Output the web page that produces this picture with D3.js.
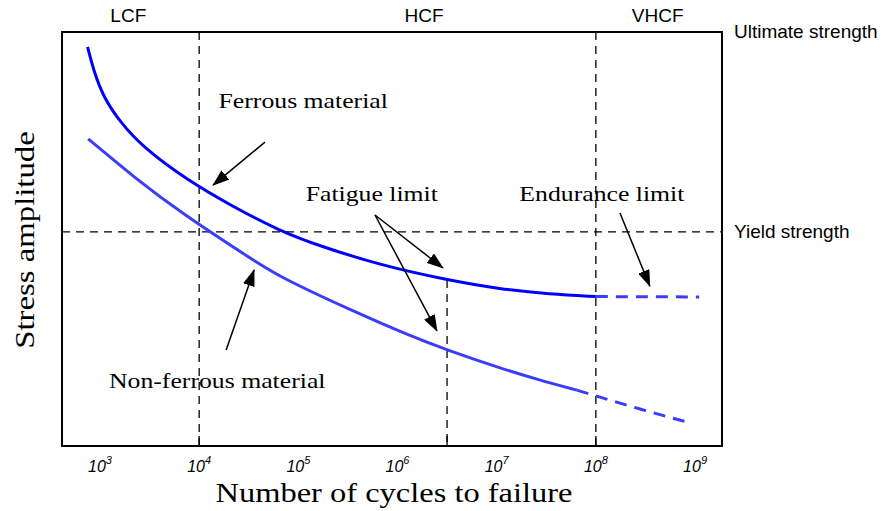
<!DOCTYPE html>
<html>
<head>
<meta charset="utf-8">
<script src="https://cdn.jsdelivr.net/npm/d3@7/dist/d3.min.js"></script>
<style>
  body { margin: 0; background: #fff; }
  svg { display: block; }
</style>
</head>
<body>
<svg id="chart" width="882" height="511"></svg>
<script>
// cycles to failure (x) and normalised stress amplitude, ultimate = 100 (y)
const decades = [1e3, 1e4, 1e5, 1e6, 1e7, 1e8, 1e9];
const decadeExp = ['3', '4', '5', '6', '7', '8', '9'];

const ferrous = [
  [750, 96.4], [860, 90.8], [1080, 84.3], [1600, 78.2], [2700, 72.2],
  [7500, 64.3], [20500, 58.2], [65500, 51.9], [165000, 48.3],
  [667000, 43.7], [3160000, 40.1], [1.08e7, 37.9], [3.44e7, 36.7], [1e8, 36.1]
];
const ferrousExt = [[1e8, 36.1], [1.1e9, 36.0]];

const nonFerrous = [
  [760, 74.2], [2370, 64.3], [6440, 56.5], [35000, 44.9],
  [65500, 40.8], [332000, 32.9], [1.43e6, 26.3], [3.16e6, 23.2],
  [1.08e7, 18.8], [2.73e7, 15.9], [6.44e7, 13.5]
];
const nonFerrousExt = [[6.44e7, 13.5], [1e8, 12.1], [2.77e8, 8.9], [8.85e8, 5.6]];

const regimeLines = [1e4, 1e8];
const fatigueN = 3.16e6;
const fatigueStress = 40.1;
const ultimateStress = 100;
const yieldStress = 51.7;
const bottomTicks = [1e4, fatigueN, 1e8];

const regimes = [
  { label: 'LCF', n: 1930 },
  { label: 'HCF', n: 1.85e6 },
  { label: 'VHCF', n: 4.2e8 }
];
const strengthLabels = [
  { label: 'Ultimate strength', s: ultimateStress },
  { label: 'Yield strength', s: yieldStress }
];

// annotation text + arrows, in data units
const notes = [
  { text: 'Ferrous material', n: 1.12e5, s: 83.3 },
  { text: 'Fatigue limit', n: 5.5e5, s: 60.9 },
  { text: 'Endurance limit', n: 1.15e8, s: 60.9 },
  { text: 'Non-ferrous material', n: 15200, s: 15.7 }
];
const arrows = [
  { from: [46000, 73.4], to: [13800, 63.0] },
  { from: [593000, 55.8], to: [2.87e6, 43.0] },
  { from: [593000, 55.8], to: [2.5e6, 27.8] },
  { from: [1.75e8, 56.3], to: [3.5e8, 38.6] },
  { from: [18700, 23.2], to: [35800, 42.5] }
];

const svg = d3.select('#chart');
const m = { left: 62, right: 722, top: 32, bottom: 446 };
const serif = 'Liberation Serif, Times New Roman, serif';
const sans = 'Liberation Sans, Arial, sans-serif';
const serifStretch = 1.17; // the serif text in the original is a bit wide

const x = d3.scaleLog().domain([414, 1.87e9]).range([m.left, m.right]);
const y = d3.scaleLinear().domain([0, 100]).range([m.bottom, m.top]);

const line = d3.line()
  .curve(d3.curveBasis)
  .x(d => x(d[0]))
  .y(d => y(d[1]));

svg.append('defs').append('marker')
  .attr('id', 'head')
  .attr('markerUnits', 'userSpaceOnUse')
  .attr('markerWidth', 17).attr('markerHeight', 12)
  .attr('refX', 16).attr('refY', 6)
  .attr('orient', 'auto')
  .append('path')
  .attr('d', 'M0,0 L17,6 L0,12 Z')
  .attr('fill', '#000');

// dashed reference lines
const dash = '8,6';
svg.selectAll('.regime').data(regimeLines).join('line')
  .attr('x1', d => x(d)).attr('x2', d => x(d))
  .attr('y1', y(ultimateStress)).attr('y2', y(0))
  .attr('stroke', '#000').attr('stroke-width', 1.3)
  .attr('stroke-dasharray', dash);

svg.append('line')
  .attr('x1', m.left).attr('x2', m.right)
  .attr('y1', y(yieldStress)).attr('y2', y(yieldStress))
  .attr('stroke', '#000').attr('stroke-width', 1.3)
  .attr('stroke-dasharray', dash);

svg.append('line')
  .attr('x1', x(fatigueN)).attr('x2', x(fatigueN))
  .attr('y1', y(fatigueStress)).attr('y2', y(0))
  .attr('stroke', '#000').attr('stroke-width', 1.3)
  .attr('stroke-dasharray', dash);

// curves
svg.append('path').datum(ferrous)
  .attr('d', line).attr('fill', 'none')
  .attr('stroke', '#0000ff').attr('stroke-width', 3);
svg.append('path').datum(ferrousExt)
  .attr('d', line).attr('fill', 'none')
  .attr('stroke', '#3c3cff').attr('stroke-width', 3)
  .attr('stroke-dasharray', '12,8');
svg.append('path').datum(nonFerrous)
  .attr('d', line).attr('fill', 'none')
  .attr('stroke', '#3c3cff').attr('stroke-width', 3);
svg.append('path').datum(nonFerrousExt)
  .attr('d', line).attr('fill', 'none')
  .attr('stroke', '#3c3cff').attr('stroke-width', 3)
  .attr('stroke-dasharray', '12,8');

// frame and ticks
svg.append('rect')
  .attr('x', m.left).attr('y', m.top)
  .attr('width', m.right - m.left).attr('height', m.bottom - m.top)
  .attr('fill', 'none').attr('stroke', '#000').attr('stroke-width', 2);

svg.selectAll('.tick').data(bottomTicks).join('line')
  .attr('x1', d => x(d)).attr('x2', d => x(d))
  .attr('y1', m.bottom).attr('y2', m.bottom - 10)
  .attr('stroke', '#000').attr('stroke-width', 1.3);

const tl = svg.selectAll('.ticklabel').data(decades).join('text')
  .attr('x', d => x(d)).attr('y', 472)
  .attr('text-anchor', 'middle')
  .attr('font-family', sans)
  .attr('font-style', 'italic')
  .attr('font-size', 16);
tl.append('tspan').text('10');
tl.append('tspan').attr('dy', -8).attr('font-size', 11)
  .text((d, i) => decadeExp[i]);

// axis titles
svg.append('text')
  .attr('transform', `translate(394,502) scale(${serifStretch - 0.01},1)`)
  .attr('text-anchor', 'middle')
  .attr('font-family', serif)
  .attr('font-size', 28)
  .text('Number of cycles to failure');

svg.append('text')
  .attr('transform', `translate(34,240) rotate(-90) scale(${serifStretch},1)`)
  .attr('text-anchor', 'middle')
  .attr('font-family', serif)
  .attr('font-size', 28)
  .text('Stress amplitude');

// regime labels and strength labels
svg.selectAll('.regimeLabel').data(regimes).join('text')
  .attr('x', d => x(d.n)).attr('y', 22)
  .attr('text-anchor', 'middle')
  .attr('font-family', sans)
  .attr('font-size', 19)
  .text(d => d.label);

svg.selectAll('.strengthLabel').data(strengthLabels).join('text')
  .attr('x', 734).attr('y', d => y(d.s) + 6)
  .attr('font-family', sans)
  .attr('font-size', 19)
  .text(d => d.label);

// annotations
svg.selectAll('.note').data(notes).join('text')
  .attr('transform', d => `translate(${x(d.n)},${y(d.s) + 7}) scale(${serifStretch},1)`)
  .attr('text-anchor', 'middle')
  .attr('font-family', serif)
  .attr('font-size', 22)
  .text(d => d.text);

svg.selectAll('.arrow').data(arrows).join('line')
  .attr('x1', d => x(d.from[0])).attr('y1', d => y(d.from[1]))
  .attr('x2', d => x(d.to[0])).attr('y2', d => y(d.to[1]))
  .attr('stroke', '#000').attr('stroke-width', 1.5)
  .attr('marker-end', 'url(#head)');
</script>
</body>
</html>
